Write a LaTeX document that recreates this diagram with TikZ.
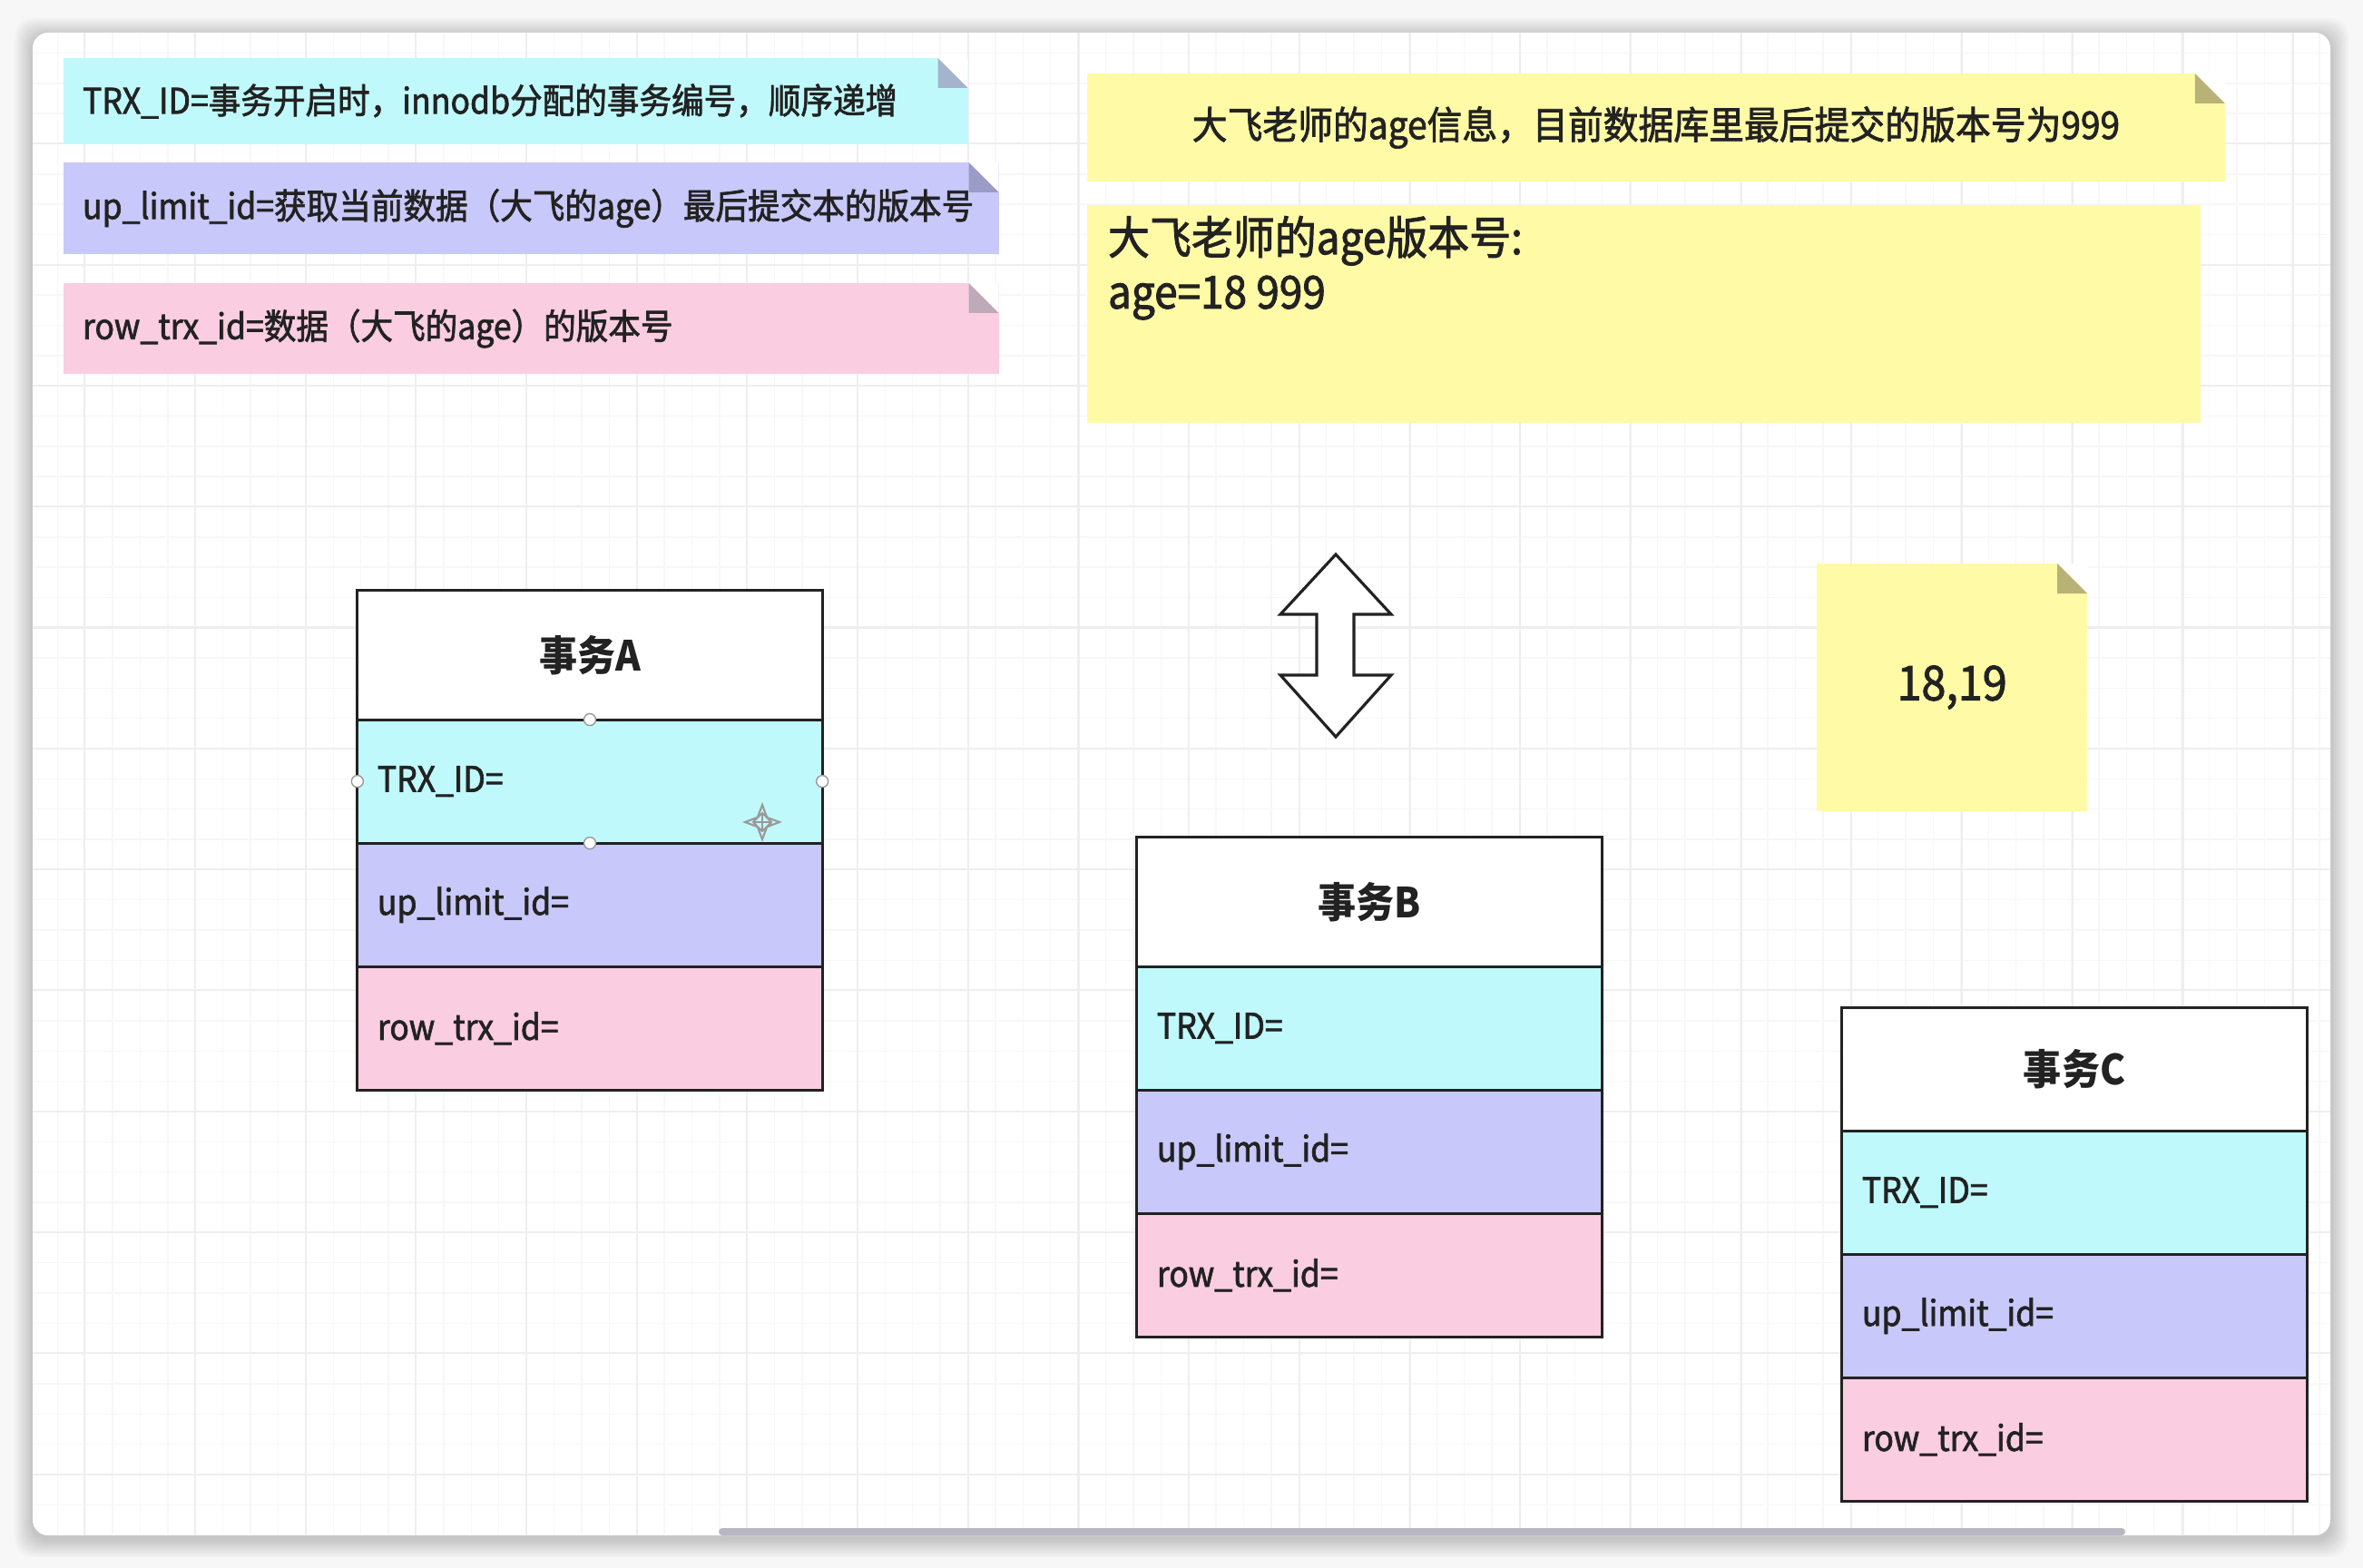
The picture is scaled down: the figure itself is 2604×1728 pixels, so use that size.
\documentclass[tikz,border=0pt]{standalone}
\usepackage{fontspec}
\setmainfont[FakeStretch=0.92]{Noto Sans CJK SC}
\newfontfamily\medfont[FakeStretch=0.92,FakeBold=1.8]{Noto Sans CJK SC}
\usetikzlibrary{positioning,arrows.meta}

\definecolor{trxcyan}{RGB}{192,249,251}
\definecolor{limitblue}{RGB}{200,200,250}
\definecolor{rowpink}{RGB}{251,205,224}
\definecolor{stickyyellow}{RGB}{255,250,166}
\definecolor{foldcyan}{RGB}{165,180,205}
\definecolor{foldblue}{RGB}{155,155,200}
\definecolor{foldpink}{RGB}{190,170,185}
\definecolor{foldyellow}{RGB}{185,178,118}
\definecolor{inkgray}{RGB}{34,34,34}
\definecolor{pagegray}{RGB}{247,247,247}
\definecolor{gridminor}{RGB}{247,247,247}
\definecolor{gridmajor}{RGB}{238,238,238}
\definecolor{scrollgray}{RGB}{185,182,196}

% folded corner of a sticky note
\newcommand\dogear[2]{%
  \fill[white] (#1.north east) ++(-33,0) -- ++(33,0) -- ++(0,33) -- cycle;
  \fill[#2] (#1.north east) ++(-33,0) -- ++(33,33) -- ++(-33,0) -- cycle;}

\begin{document}
\begin{tikzpicture}
[x=0.01cm, y=-0.01cm,
 every node/.append style={text=inkgray},
 note/.style={anchor=north west, inner sep=0pt, outer sep=0pt},
 sidenote/.style={note, inner xsep=0.21cm, align=left, font=\medfont\fontsize{11}{13}\selectfont},
 tbl/.style={draw=inkgray, line width=0.85pt, outer sep=0pt, inner sep=0pt, minimum width=5.12cm},
 head/.style={tbl, fill=white, minimum height=1.42cm, font=\bfseries\fontsize{13}{15}\selectfont},
 field/.style={tbl, minimum height=1.36cm, inner xsep=0.22cm, text width=4.68cm, align=left, font=\medfont\fontsize{11}{13}\selectfont},
 handle/.style={draw=gray!80, fill=white, line width=0.4pt}]
\useasboundingbox (0,0) rectangle (2604,1728);
\fill[pagegray] (0,0) rectangle (2604,1728);
% window and its shadow
\foreach \i in {1,...,10}
  \fill[black, opacity=0.02, rounded corners=0.2cm] (36-2*\i,40-2*\i) rectangle (2568+2*\i,1696+2*\i);
\fill[white, rounded corners=0.17cm] (36,36) rectangle (2568,1692);
\begin{scope}
\clip[rounded corners=0.17cm] (36,36) rectangle (2568,1692);
\foreach \k in {1,...,84}
  \draw[gridminor, line width=0.4pt] ({2.5+30.4*\k},36) -- ({2.5+30.4*\k},1692);
\foreach \k in {1,...,50}
  \draw[gridminor, line width=0.4pt] (36,{25.2+33.33*\k}) -- (2568,{25.2+33.33*\k});
\foreach \k in {0,...,20}
  \draw[gridmajor, line width=0.6pt] ({93.2+121.7*\k},36) -- ({93.2+121.7*\k},1692);
\foreach \k in {1,...,12}
  \draw[gridmajor, line width=0.6pt] (36,{25+133.3*\k}) -- (2568,{25+133.3*\k});
\end{scope}
\fill[scrollgray, rounded corners=0.04cm] (792,1684) rectangle (2342,1692);

% legend notes
\node[sidenote, fill=trxcyan, text width=9.54cm, minimum height=0.95cm] (noteTrx) at (70,64)
  {TRX\_ID=事务开启时，innodb分配的事务编号，顺序递增};
\dogear{noteTrx}{foldcyan}
\node[sidenote, fill=limitblue, text width=9.88cm, minimum height=1.01cm] (noteLimit) at (70,179)
  {up\_limit\_id=获取当前数据（大飞的age）最后提交本的版本号};
\dogear{noteLimit}{foldblue}
\node[sidenote, fill=rowpink, text width=9.88cm, minimum height=1.0cm] (noteRow) at (70,312)
  {row\_trx\_id=数据（大飞的age）的版本号};
\dogear{noteRow}{foldpink}

% yellow notes
\node[note, fill=stickyyellow, minimum width=12.53cm, minimum height=1.19cm,
  font=\medfont\fontsize{12}{14}\selectfont] (noteAge) at (1198,81)
  {大飞老师的age信息，目前数据库里最后提交的版本号为999};
\dogear{noteAge}{foldyellow}
\node[note, fill=stickyyellow, minimum width=12.26cm, minimum height=2.40cm] (noteVer) at (1198,226) {};
\node[note, align=left, font=\medfont\fontsize{14.2}{17}\selectfont] (verText) at (1221,238)
  {大飞老师的age版本号:\\age=18 999};
\node[note, fill=stickyyellow, minimum width=2.98cm, minimum height=2.73cm,
  font=\medfont\fontsize{15}{17}\selectfont] (noteRange) at (2002,621) {18,19};
\dogear{noteRange}{foldyellow}

% up-down arrow
\draw[inkgray, fill=white, line width=0.9pt] (1472,611) -- (1533,677) -- (1492,677) -- (1492,744)
  -- (1533,744) -- (1472,812) -- (1411,744) -- (1451,744) -- (1451,677) -- (1411,677) -- cycle;

% transaction A
\node[head] (headA) at (650,722) {事务A};
\node[field, fill=trxcyan, below=0pt of headA] (trxA) {TRX\_ID=};
\node[field, fill=limitblue, below=0pt of trxA] (limitA) {up\_limit\_id=};
\node[field, fill=rowpink, below=0pt of limitA] (rowA) {row\_trx\_id=};
\foreach \a in {north,west,east,south}
  \draw[handle] (trxA.\a) circle[radius=0.065cm];
\draw[gray!80, line width=0.6pt, {Stealth[open]}-{Stealth[open]}] (818,906) -- (862,906);
\draw[gray!80, line width=0.6pt, {Stealth[open]}-{Stealth[open]}] (840,884) -- (840,928);

% transaction B
\node[head] (headB) at (1509,994) {事务B};
\node[field, fill=trxcyan, below=0pt of headB] (trxB) {TRX\_ID=};
\node[field, fill=limitblue, below=0pt of trxB] (limitB) {up\_limit\_id=};
\node[field, fill=rowpink, below=0pt of limitB] (rowB) {row\_trx\_id=};

% transaction C
\node[head, minimum height=1.35cm] (headC) at (2286,1178.5) {事务C};
\node[field, fill=trxcyan, below=0pt of headC] (trxC) {TRX\_ID=};
\node[field, fill=limitblue, below=0pt of trxC] (limitC) {up\_limit\_id=};
\node[field, fill=rowpink, below=0pt of limitC] (rowC) {row\_trx\_id=};
\end{tikzpicture}
\end{document}
